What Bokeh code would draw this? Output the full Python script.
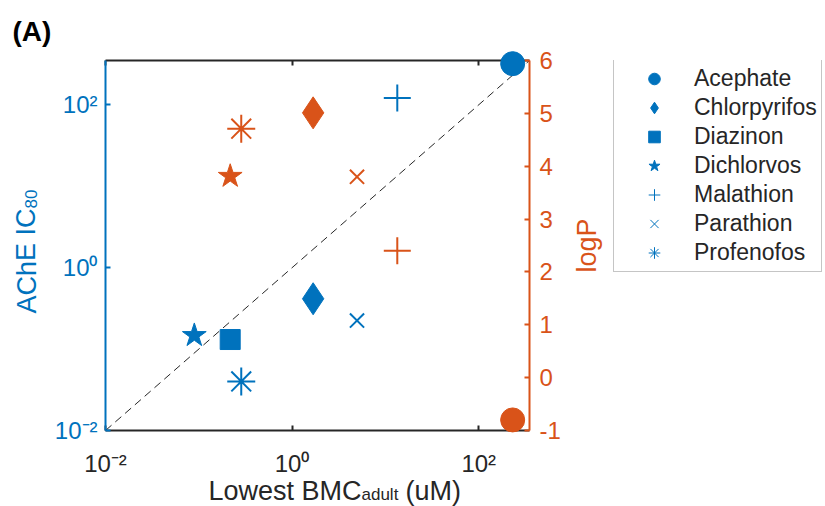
from bokeh.plotting import figure
from bokeh.layouts import row
from bokeh.models import (Range1d, LinearAxis, LogAxis, LinearScale, Legend, LegendItem,
                          FixedTicker, CustomJSTickFormatter, ColumnDataSource)
from bokeh.core.properties import value
from bokeh.embed import file_html
from bokeh.resources import INLINE

# ---------------- data ----------------
compounds = ["Acephate", "Chlorpyrifos", "Diazinon", "Dichlorvos",
             "Malathion", "Parathion", "Profenofos"]
bmc_adult = [231, 1.68, 0.217, 0.0895, 13.4, 4.96, 0.285]      # Lowest BMC_adult (uM)
ache_ic80 = [320, 0.415, 0.131, 0.147, 121, 0.224, 0.040]      # AChE IC80

# logP series (right axis) as plotted
logp_compounds = ["Acephate", "Chlorpyrifos", "Diazinon", "Malathion", "Parathion", "Profenofos"]
logp_bmc = [231, 1.68, 0.217, 13.4, 4.96, 0.285]
logp_values = [-0.80, 5.01, 3.81, 2.40, 3.80, 4.71]
logp_marker_of = ["circle", "diamond", "star", "cross", "x", "asterisk"]

x_limits = [0.01, 350]
y_limits = [0.01, 350]
logp_limits = [-1, 6]
x_ticks = [0.01, 1, 100]
y_ticks = [0.01, 1, 100]
logp_ticks = [-1, 0, 1, 2, 3, 4, 5, 6]

# ---------------- style ----------------
BLUE = "#0072BD"
ORANGE = "#D95319"
DARK = "#262626"
FONT = "Liberation Sans"
marker_of = {"Acephate": "circle", "Chlorpyrifos": "diamond", "Diazinon": "square",
             "Dichlorvos": "star", "Malathion": "cross", "Parathion": "x",
             "Profenofos": "asterisk"}
size_of = {"circle": 24, "diamond": 32, "square": 20, "star": 25,
           "cross": 27, "x": 20, "asterisk": 28}
lw_of = {"circle": 1, "diamond": 1, "square": 1, "star": 1,
         "cross": 2, "x": 2, "asterisk": 2}

p = figure(x_axis_type="log", y_axis_type="log",
           x_range=Range1d(*x_limits), y_range=Range1d(*y_limits),
           frame_width=424, frame_height=370,
           min_border_left=105, min_border_right=77, min_border_top=60, min_border_bottom=76,
           output_backend="svg", toolbar_location=None)
p.grid.visible = False
p.outline_line_color = None
p.background_fill_color = "white"
p.border_fill_color = "white"
p.extra_y_ranges = {"logp": Range1d(*logp_limits)}
p.extra_y_scales = {"logp": LinearScale()}

sup_fmt = CustomJSTickFormatter(code="""
const sup = {"-": "\u207b", "0": "\u2070", "1": "\u00b9", "2": "\u00b2", "3": "\u00b3",
             "4": "\u2074", "5": "\u2075", "6": "\u2076", "7": "\u2077", "8": "\u2078", "9": "\u2079"};
const e = Math.round(Math.log10(tick));
return "10" + String(e).split("").map(c => sup[c]).join("");
""")
plain_fmt = CustomJSTickFormatter(code="return String(tick);")

def style_axis(ax, color, ticks, formatter=None, standoff=8, show_labels=True):
    ax.ticker = FixedTicker(ticks=ticks)
    if formatter is not None:
        ax.formatter = formatter
    ax.axis_line_color = color
    ax.axis_line_width = 2
    ax.major_tick_line_color = color
    ax.major_tick_line_width = 2
    ax.major_tick_in = 5
    ax.major_tick_out = 0
    ax.minor_tick_line_color = None
    ax.major_label_text_color = color
    ax.major_label_text_font = FONT
    ax.major_label_text_font_size = "24px" if show_labels else "0px"
    if not show_labels:
        ax.major_label_text_alpha = 0
    ax.major_label_standoff = standoff

style_axis(p.xaxis[0], DARK, x_ticks, sup_fmt, standoff=19)
style_axis(p.yaxis[0], BLUE, y_ticks, sup_fmt, standoff=8)

top_axis = LogAxis(ticker=FixedTicker(ticks=x_ticks))
style_axis(top_axis, DARK, x_ticks, show_labels=False)
p.add_layout(top_axis, "above")

right_axis = LinearAxis(y_range_name="logp")
style_axis(right_axis, ORANGE, logp_ticks, plain_fmt, standoff=10)
p.add_layout(right_axis, "right")

# identity line
p.line(x=x_limits, y=y_limits, line_color=DARK, line_width=1, line_dash="8 5")

# blue series (IC80)
mk = [marker_of[c] for c in compounds]
src_blue = ColumnDataSource(dict(x=bmc_adult, y=ache_ic80, marker=mk,
                                 size=[size_of[m] for m in mk], lw=[lw_of[m] for m in mk]))
p.scatter("x", "y", marker="marker", size="size", line_width="lw",
          fill_color=BLUE, line_color=BLUE, source=src_blue, level="overlay")

# orange series (logP)
src_or = ColumnDataSource(dict(x=logp_bmc, y=logp_values, marker=logp_marker_of,
                               size=[size_of[m] for m in logp_marker_of],
                               lw=[lw_of[m] for m in logp_marker_of]))
p.scatter("x", "y", marker="marker", size="size", line_width="lw",
          fill_color=ORANGE, line_color=ORANGE, source=src_or,
          y_range_name="logp", level="overlay")

# axis titles / panel label: text pieces anchored at the frame's lower-left corner,
# offset in pixels (y offset positive = downward)
titles = dict(
    text=["(A)", "Lowest BMC", "adult", "(uM)", "AChE IC", "80", "logP"],
    dx=[-93, 103, 256, 300, -79, -75, 481],
    dy=[-399, 60, 64, 60, -117, -222, -158],
    color=["black", DARK, DARK, DARK, BLUE, BLUE, ORANGE],
    size=["28px", "27px", "17px", "27px", "27px", "17px", "27px"],
    style=["bold", "normal", "normal", "normal", "normal", "normal", "normal"],
    angle=[0, 0, 0, 0, 90, 90, 90],
)
titles["x"] = [x_limits[0]] * len(titles["text"])
titles["y"] = [y_limits[0]] * len(titles["text"])
p.text("x", "y", text="text", x_offset="dx", y_offset="dy", text_color="color",
       text_font=value(FONT), text_font_size="size", text_font_style="style",
       angle="angle", angle_units="deg", text_align="left", text_baseline="alphabetic",
       source=ColumnDataSource(titles), level="overlay")

# ---------------- legend panel (separate canvas to the right) ----------------
q = figure(width=219, height=506, min_border=0, x_range=Range1d(0, 1), y_range=Range1d(0, 1),
           x_axis_location=None, y_axis_location=None,
           output_backend="svg", toolbar_location=None)
q.grid.visible = False
q.outline_line_color = None
q.background_fill_color = "white"
q.border_fill_color = "white"
nan = float("nan")
legend_src = ColumnDataSource(dict(x=[nan] * len(compounds), y=[nan] * len(compounds),
                                   marker=mk))
r_leg = q.scatter("x", "y", marker="marker", size=12, line_width=1,
                  fill_color=BLUE, line_color=BLUE, source=legend_src)
items = [LegendItem(label=c, renderers=[r_leg], index=i) for i, c in enumerate(compounds)]
legend = Legend(items=items, location=(7, 158), orientation="vertical",
                padding=4, margin=0, spacing=0, glyph_width=72, glyph_height=29,
                label_height=29, label_standoff=4, label_text_font=FONT,
                label_text_font_size="23px", label_text_color=DARK,
                border_line_color="#8c8c8c", border_line_width=1,
                background_fill_color="white", background_fill_alpha=1)
q.add_layout(legend, "center")

layout = row(p, q, spacing=0)
open("out.html", "w").write(file_html(layout, INLINE))
